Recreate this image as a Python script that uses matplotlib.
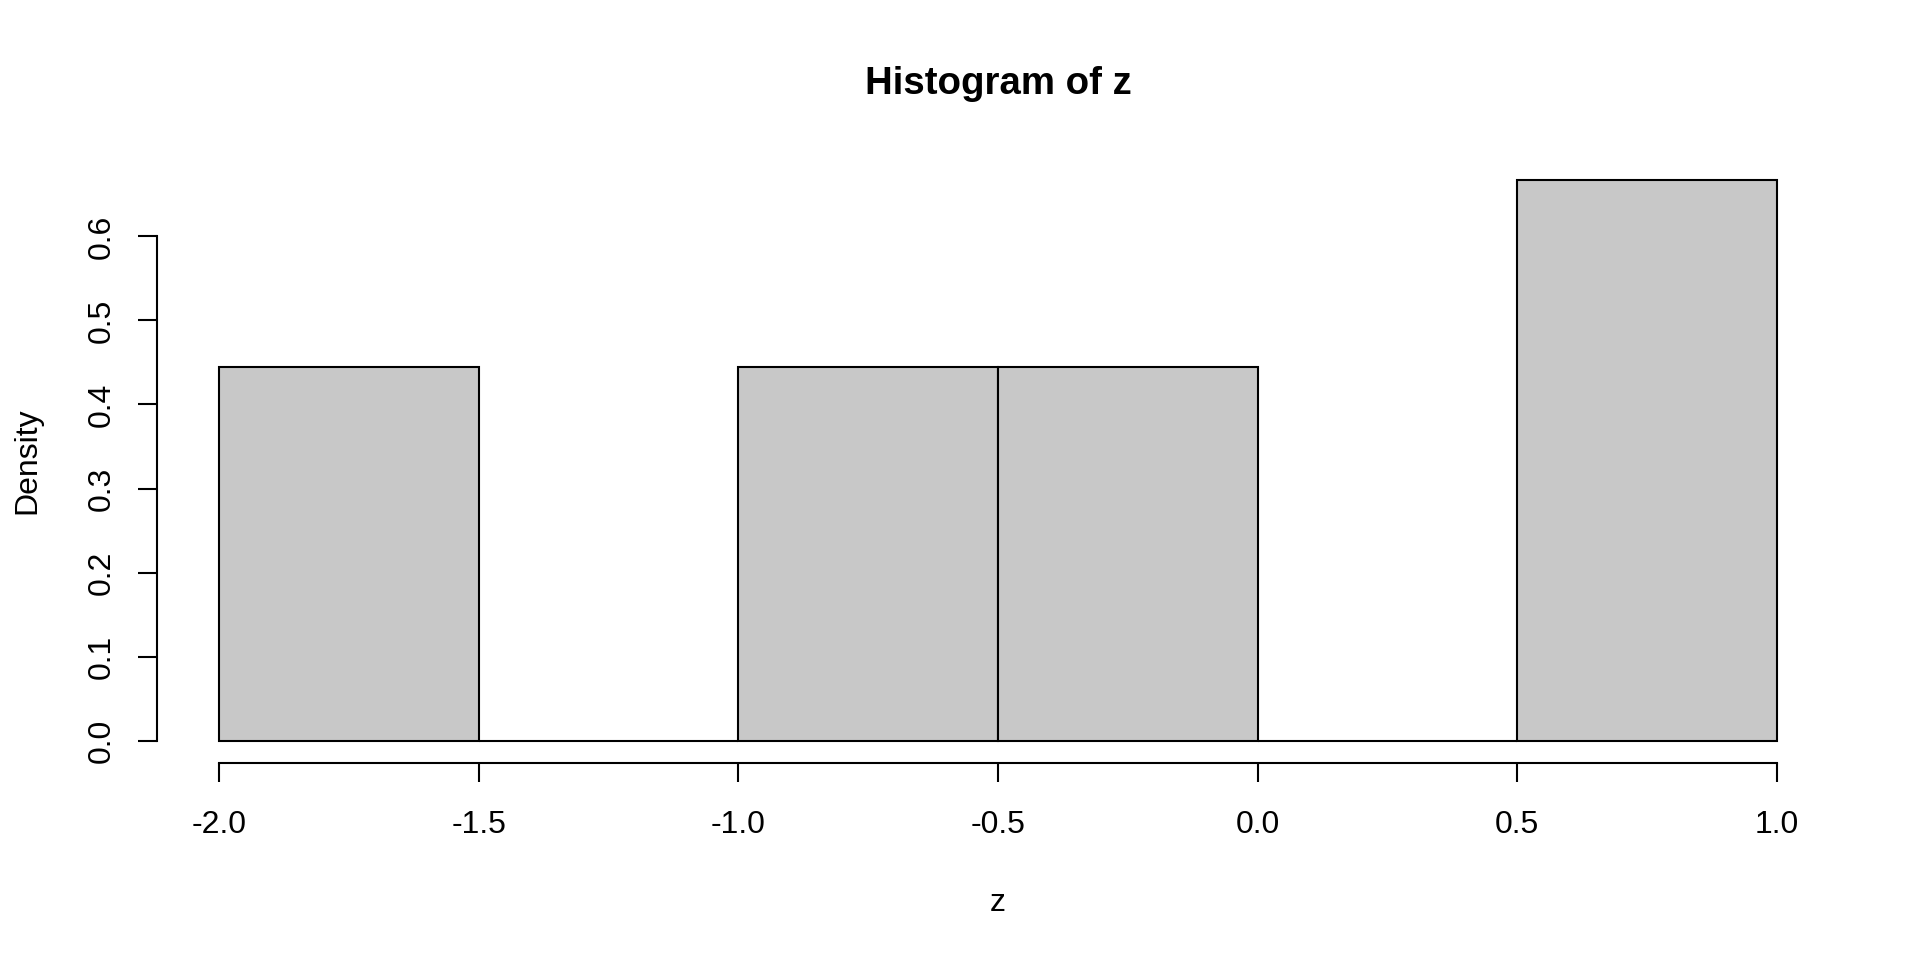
import matplotlib
matplotlib.use("Agg")
import matplotlib.pyplot as plt
import numpy as np

# Data (R-style hist, density scale)
bin_edges = [-2.0, -1.5, -1.0, -0.5, 0.0, 0.5, 1.0]
counts = [2, 0, 2, 2, 0, 3]
x_ticks = [-2.0, -1.5, -1.0, -0.5, 0.0, 0.5, 1.0]
x_tick_labels = ["-2.0", "-1.5", "-1.0", "-0.5", "0.0", "0.5", "1.0"]
y_ticks = [0.0, 0.1, 0.2, 0.3, 0.4, 0.5, 0.6]
y_tick_labels = ["0.0", "0.1", "0.2", "0.3", "0.4", "0.5", "0.6"]
title = "Histogram of z"
xlabel = "z"
ylabel = "Density"

plt.rcParams['font.family'] = ['Liberation Sans', 'DejaVu Sans']
FS = 23.0

fig = plt.figure(figsize=(19.2, 9.6), dpi=100)
ax = fig.add_axes([157/1920, 1 - 763/960, (1839 - 157)/1920, (763 - 158)/960])

ax.hist(bin_edges[:-1], bins=bin_edges, weights=counts, density=True,
        facecolor="#c8c8c8", edgecolor="black", linewidth=1.5)

dens = np.array(counts) / (np.sum(counts) * np.diff(bin_edges))
ymax = dens.max()
xr = bin_edges[-1] - bin_edges[0]
ax.set_xlim(bin_edges[0] - 0.04 * xr, bin_edges[-1] + 0.04 * xr)
ax.set_ylim(-0.04 * ymax, ymax * 1.04)

for s in ["top", "right"]:
    ax.spines[s].set_visible(False)
ax.spines["bottom"].set_bounds(bin_edges[0], bin_edges[-1])
ax.spines["left"].set_bounds(y_ticks[0], y_ticks[-1])
for s in ["bottom", "left"]:
    ax.spines[s].set_linewidth(1.5)

ax.set_xticks(x_ticks)
ax.set_xticklabels(x_tick_labels)
ax.set_yticks(y_ticks)
ax.set_yticklabels(y_tick_labels, rotation=90, va="center")
ax.tick_params(axis="both", length=13.7, width=1.5, labelsize=FS, direction="out")
ax.tick_params(axis="x", pad=20)
ax.tick_params(axis="y", pad=15.5)

ax.set_xlabel(xlabel, fontsize=FS, labelpad=35)
ax.set_ylabel(ylabel, fontsize=FS, labelpad=32)
fig.text((157 + 1839) / 2 / 1920, 1 - 84 / 960, title, fontsize=FS * 1.2,
         fontweight="bold", ha="center", va="center")

fig.savefig("out.png", dpi=100, facecolor="white")
